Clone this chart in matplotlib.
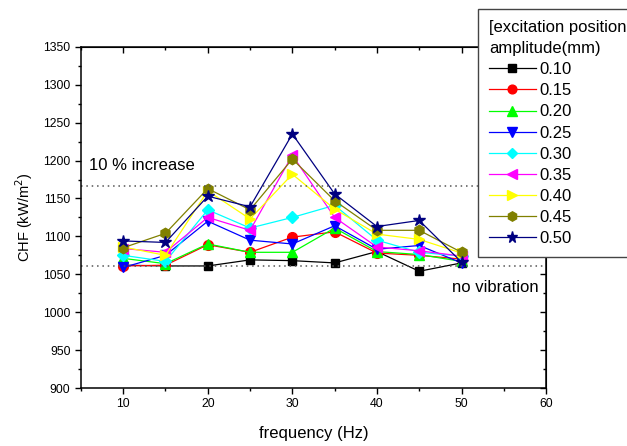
import numpy as np
import matplotlib
matplotlib.use('Agg')
import matplotlib.pyplot as plt
from matplotlib.ticker import MultipleLocator

plt.rcParams['font.family'] = ['Liberation Sans', 'DejaVu Sans']

# данные
freq = [10, 15, 20, 25, 30, 35, 40, 45, 50]
amplitudes = ['0.10', '0.15', '0.20', '0.25', '0.30', '0.35', '0.40', '0.45', '0.50']
chf_010 = [1062, 1061, 1061, 1069, 1068, 1065, 1080, 1054, 1065]
chf_015 = [1061, 1062, 1089, 1079, 1099, 1106, 1078, 1075, 1070]
chf_020 = [1071, 1064, 1090, 1079, 1079, 1111, 1080, 1076, 1067]
chf_025 = [1059, 1075, 1120, 1095, 1090, 1114, 1083, 1088, 1065]
chf_030 = [1075, 1067, 1135, 1111, 1125, 1141, 1095, 1079, 1074]
chf_035 = [1084, 1079, 1125, 1108, 1207, 1125, 1086, 1081, 1074]
chf_040 = [1086, 1075, 1160, 1123, 1182, 1136, 1103, 1096, 1078]
chf_045 = [1085, 1104, 1163, 1135, 1202, 1147, 1108, 1108, 1079]
chf_050 = [1094, 1092, 1153, 1139, 1235, 1156, 1113, 1121, 1066]
no_vibration = 1061
increase_10 = 1167

series = [chf_010, chf_015, chf_020, chf_025, chf_030, chf_035, chf_040, chf_045, chf_050]
colors = ['black', 'red', '#00ff00', 'blue', 'cyan', 'magenta', 'yellow', '#808000', '#000080']
markers = ['s', 'o', '^', 'v', 'D', '<', '>', 'h', '*']
msizes = [6, 7, 7.5, 7.5, 6, 7.5, 7.5, 7.5, 9]

fig = plt.figure(figsize=(6.27, 4.46), dpi=100)
ax = fig.add_axes([0.129, 0.130, 0.742, 0.765])

for vals, c, m, ms, lab in zip(series, colors, markers, msizes, amplitudes):
    ax.plot(freq, vals, color=c, marker=m, markersize=ms, linewidth=0.9, label=lab)

ax.axhline(increase_10, color='#555555', linestyle=(0, (1, 2.5)), linewidth=1.1)
ax.axhline(no_vibration, color='#555555', linestyle=(0, (1, 2.5)), linewidth=1.1)
ax.text(6.0, 1193, '10 % increase', fontsize=12, va='center', ha='left')
ax.text(59.1, 1033, 'no vibration', fontsize=12, va='center', ha='right')

ax.set_xlim(5, 60)
ax.set_ylim(900, 1350)
ax.xaxis.set_major_locator(MultipleLocator(10))
ax.xaxis.set_minor_locator(MultipleLocator(5))
ax.yaxis.set_major_locator(MultipleLocator(50))
ax.yaxis.set_minor_locator(MultipleLocator(25))
ax.set_xticks([10, 20, 30, 40, 50, 60])
ax.tick_params(which='major', direction='out', length=4, width=1, labelsize=8.8)
ax.tick_params(which='minor', direction='out', length=2.5, width=1)
for s in ax.spines.values():
    s.set_linewidth(1.1)

# верх и право: тики внутрь, как в Origin
top = ax.secondary_xaxis('top')
top.xaxis.set_major_locator(MultipleLocator(10))
top.xaxis.set_minor_locator(MultipleLocator(5))
top.tick_params(which='major', direction='in', length=4, width=1, labeltop=False)
top.tick_params(which='minor', direction='in', length=2.5, width=1)
right = ax.secondary_yaxis('right')
right.yaxis.set_major_locator(MultipleLocator(50))
right.yaxis.set_minor_locator(MultipleLocator(25))
right.tick_params(which='major', direction='in', length=4, width=1, labelright=False)
right.tick_params(which='minor', direction='in', length=2.5, width=1)

ax.set_xlabel('frequency (Hz)', fontsize=12, labelpad=11)
ax.set_ylabel('CHF (kW/m$^2$)', fontsize=10.5, labelpad=6)

leg = fig.legend(loc='upper left', bbox_to_anchor=(478 / 627, 1 - 9 / 446),
                 title='[excitation position\namplitude(mm)', fontsize=12,
                 title_fontsize=12, fancybox=False, framealpha=1,
                 edgecolor='#444444', handlelength=2.8, handletextpad=0.25,
                 labelspacing=0.37, borderpad=0.65, borderaxespad=0,
                 markerscale=0.9)
leg._legend_box.align = 'left'
leg.get_title().set_linespacing(1.5)
leg.get_frame().set_linewidth(1.0)

fig.savefig('out.png', dpi=100)
